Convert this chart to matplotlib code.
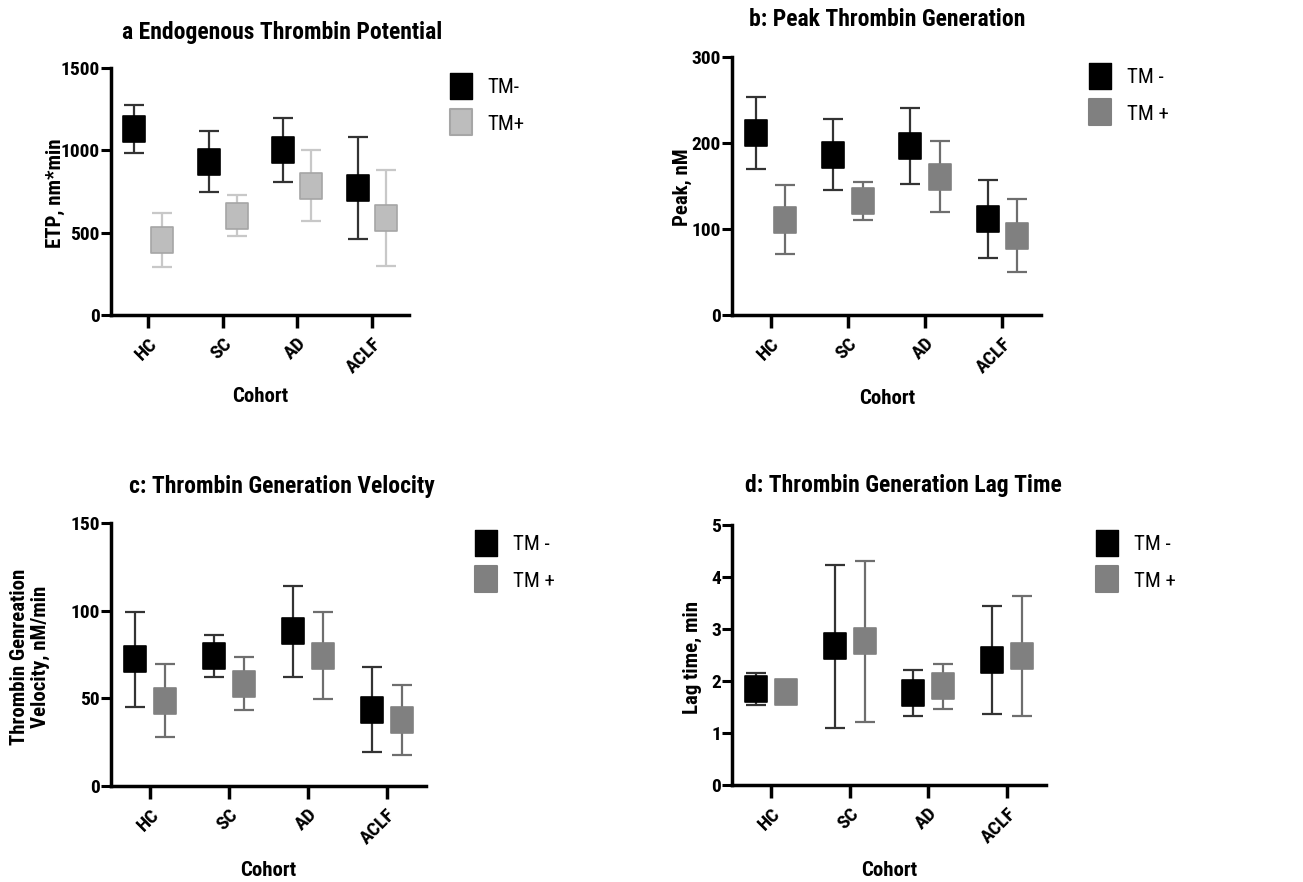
import matplotlib
matplotlib.use("Agg")
import matplotlib.pyplot as plt
import numpy as np
from matplotlib.lines import Line2D
from matplotlib.path import Path

plt.rcParams['font.family'] = ['Liberation Sans Narrow', 'Roboto Condensed', 'Archivo Narrow',
                               'PT Sans Narrow', 'Liberation Sans', 'DejaVu Sans']

cohorts = ['HC', 'SC', 'AD', 'ACLF']

# a: ETP (mean, lower whisker, upper whisker)
etp_neg = [1127, 932, 1001, 770]
etp_neg_lo = [981, 746, 807, 462]
etp_neg_hi = [1273, 1115, 1198, 1078]
etp_pos = [454, 602, 784, 592]
etp_pos_lo = [290, 478, 570, 298]
etp_pos_hi = [622, 726, 1001, 882]

# b: Peak
peak_neg = [211.5, 186.3, 196.4, 111.4]
peak_neg_lo = [169.6, 145.5, 152.9, 66.0]
peak_neg_hi = [253.4, 227.8, 240.6, 157.2]
peak_pos = [110.6, 132.7, 160.7, 92.4]
peak_pos_lo = [70.6, 110.6, 119.9, 49.7]
peak_pos_hi = [150.6, 154.9, 201.8, 135.4]

# c: Velocity
vel_neg = [72.3, 74.4, 88.3, 43.6]
vel_neg_lo = [45.3, 62.4, 62.4, 19.6]
vel_neg_hi = [99.2, 86.2, 114.2, 67.6]
vel_pos = [48.4, 58.4, 74.2, 37.5]
vel_pos_lo = [27.8, 43.6, 49.5, 17.7]
vel_pos_hi = [69.7, 73.5, 99.2, 57.5]

# d: Lag time
lag_neg = [1.84, 2.67, 1.76, 2.41]
lag_neg_lo = [1.53, 1.10, 1.33, 1.37]
lag_neg_hi = [2.15, 4.23, 2.21, 3.44]
lag_pos = [1.78, 2.76, 1.90, 2.48]
lag_pos_lo = [1.73, 1.22, 1.47, 1.33]
lag_pos_hi = [1.83, 4.31, 2.33, 3.63]

# tall rectangle marker (the original squares are slightly taller than wide)
box = Path([(-0.4, -0.5), (0.4, -0.5), (0.4, 0.5), (-0.4, 0.5), (-0.4, -0.5)],
           [Path.MOVETO, Path.LINETO, Path.LINETO, Path.LINETO, Path.CLOSEPOLY])

fig = plt.figure(figsize=(13.03, 8.82), dpi=100)


def panel(rect, neg, neg_lo, neg_hi, pos, pos_lo, pos_hi, ymax, step,
          pos_fill, pos_edge, pos_err, labels, leg_xy):
    ax = fig.add_axes(rect)
    x = np.arange(len(cohorts))
    off = 0.19
    for xs, m, lo, hi, fc, ec, erc in [
            (x - off, neg, neg_lo, neg_hi, 'black', 'black', '#333333'),
            (x + off, pos, pos_lo, pos_hi, pos_fill, pos_edge, pos_err)]:
        m = np.array(m)
        yerr = [m - np.array(lo), np.array(hi) - m]
        ax.errorbar(xs, m, yerr=yerr, fmt='none', ecolor=erc, elinewidth=1.6,
                    capsize=7.5, capthick=1.6, zorder=2)
        ax.plot(xs, m, linestyle='none', marker=box, markersize=19,
                markerfacecolor=fc, markeredgecolor=ec, markeredgewidth=1.2, zorder=3)
    ax.set_xlim(-0.5, 3.5)
    ax.set_ylim(0, ymax)
    ax.set_yticks(np.arange(0, ymax + step / 2, step))
    ax.set_xticks(x)
    ax.set_xticklabels(cohorts, rotation=45, ha='right', va='top',
                       rotation_mode='anchor', fontweight='bold', fontsize=14)
    for t in ax.get_yticklabels():
        t.set_fontweight('bold')
        t.set_fontsize(14)
    for s in ['top', 'right']:
        ax.spines[s].set_visible(False)
    for s in ['left', 'bottom']:
        ax.spines[s].set_linewidth(2.5)
    ax.tick_params(axis='y', width=2.2, length=7, pad=1)
    ax.tick_params(axis='x', width=2.5, length=9, pad=5)
    handles = [
        Line2D([], [], linestyle='none', marker=box, markersize=19,
               markerfacecolor='black', markeredgecolor='black'),
        Line2D([], [], linestyle='none', marker=box, markersize=19,
               markerfacecolor=pos_fill, markeredgecolor=pos_edge, markeredgewidth=1.5),
    ]
    ax.legend(handles, labels, loc='upper left', bbox_to_anchor=leg_xy,
              bbox_transform=fig.transFigure, frameon=False, fontsize=15,
              handlelength=1.2, handletextpad=0.7, labelspacing=0.85,
              borderpad=0, borderaxespad=0)
    return ax


W, H = 1303.0, 882.0


def fr(l, t, r, b):
    return [l / W, 1 - b / H, (r - l) / W, (b - t) / H]


panel(fr(111, 68, 409, 315), etp_neg, etp_neg_lo, etp_neg_hi, etp_pos, etp_pos_lo, etp_pos_hi,
      1500, 500, '#bdbdbd', '#a6a6a6', '#c8c8c8', ['TM-', 'TM+'], (448 / W, 1 - 78 / H))
panel(fr(732, 57, 1041, 315), peak_neg, peak_neg_lo, peak_neg_hi, peak_pos, peak_pos_lo, peak_pos_hi,
      300, 100, '#808080', '#808080', '#6e6e6e', ['TM -', 'TM +'], (1087 / W, 1 - 68 / H))
panel(fr(111, 523, 426, 786), vel_neg, vel_neg_lo, vel_neg_hi, vel_pos, vel_pos_lo, vel_pos_hi,
      150, 50, '#808080', '#808080', '#6e6e6e', ['TM -', 'TM +'], (473 / W, 1 - 535 / H))
panel(fr(732, 525, 1046, 785), lag_neg, lag_neg_lo, lag_neg_hi, lag_pos, lag_pos_lo, lag_pos_hi,
      5, 1, '#808080', '#808080', '#6e6e6e', ['TM -', 'TM +'], (1094 / W, 1 - 535 / H))

# titles
tkw = dict(fontsize=17, fontweight='bold', ha='center', va='center')
fig.text(282 / W, 1 - 32 / H, 'a Endogenous Thrombin Potential', **tkw)
fig.text(887 / W, 1 - 20 / H, 'b: Peak Thrombin Generation', **tkw)
fig.text(282 / W, 1 - 487 / H, 'c: Thrombin Generation Velocity', **tkw)
fig.text(903 / W, 1 - 486 / H, 'd: Thrombin Generation Lag Time', **tkw)

# axis labels
lkw = dict(fontsize=15, fontweight='bold', ha='center', va='center')
fig.text(260 / W, 1 - 397 / H, 'Cohort', **lkw)
fig.text(887 / W, 1 - 398 / H, 'Cohort', **lkw)
fig.text(268 / W, 1 - 871 / H, 'Cohort', **lkw)
fig.text(889 / W, 1 - 870 / H, 'Cohort', **lkw)
fig.text(55 / W, 1 - 193 / H, 'ETP, nm*min', rotation=90, **lkw)
fig.text(682 / W, 1 - 187 / H, 'Peak, nM', rotation=90, **lkw)
fig.text(30 / W, 1 - 657 / H, 'Thrombin Genreation\nVelocity, nM/min', rotation=90,
         linespacing=1.1, **lkw)
fig.text(692 / W, 1 - 657 / H, 'Lag time, min', rotation=90, **lkw)

fig.savefig('out.png', dpi=100)
